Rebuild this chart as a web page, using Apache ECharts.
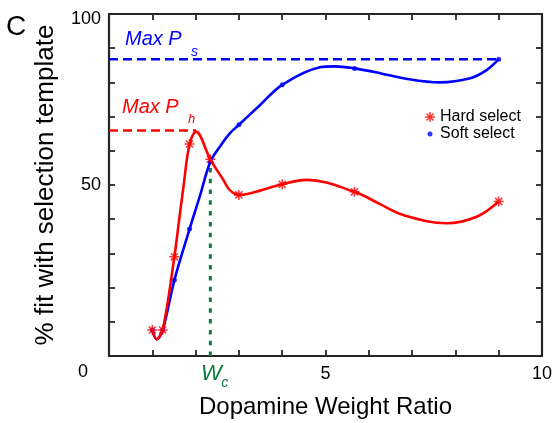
<!DOCTYPE html>
<html><head><meta charset="utf-8">
<script src="https://cdn.jsdelivr.net/npm/echarts@6/dist/echarts.min.js"></script>
<style>html,body{margin:0;padding:0;background:#fff}#c{width:553px;height:423px}</style>
</head><body><div id="c"></div>
<script>
// ---- data ----
const ratios = [1.0, 1.24, 1.51, 1.86, 2.34, 3.0, 4.0, 5.67, 9.0];
const hardSelect = [7.6, 7.6, 29.0, 62.0, 57.5, 47.1, 50.2, 48.0, 45.2];
const softSelect = [7.6, 7.6, 22.2, 37.1, 56.8, 67.6, 79.3, 84.1, 86.8];
// traced fitted curves
const hardCurveX = [1.0, 1.10, 1.24, 1.51, 1.62, 1.72, 1.86, 2.01, 2.34, 2.64, 2.79, 3.0, 3.33, 4.0, 4.57, 5.67, 6.26, 6.80, 7.80, 8.49, 9.0];
const hardCurveY = [7.6, 4.9, 7.6, 29.0, 39.8, 49.5, 62.0, 65.6, 57.5, 51.5, 48.5, 47.1, 47.8, 50.2, 51.5, 48.0, 44.4, 41.2, 38.8, 40.7, 45.2];
const softCurveX = [1.0, 1.10, 1.24, 1.51, 1.86, 2.10, 2.34, 2.56, 2.79, 3.0, 3.49, 4.0, 4.87, 5.22, 5.67, 6.26, 6.80, 7.64, 8.34, 8.72, 9.0];
const softCurveY = [7.6, 4.9, 7.6, 22.2, 37.1, 46.8, 56.8, 61.2, 65.1, 67.6, 73.4, 79.3, 84.4, 84.7, 84.1, 82.7, 81.2, 80.0, 81.2, 83.6, 86.8];
const maxPs = 86.8;
const maxPh = 65.9;
const peakHardX = 2.01;
const endSoftX = 9.0;
const wc = 2.34;
const wcFit = 57.0;
const xTicks = [0,1,2,3,4,5,6,7,8,9,10];
const yTicks = [0,10,20,30,40,50,60,70,80,90,100];
const xLabels = [5, 10];
const yLabels = [50, 100];
const seriesNames = ['Hard select', 'Soft select'];

const FONT = '"Liberation Sans", Arial, Helvetica, sans-serif';
const RED = '#ff0000', BLUE = '#0000ff', GREEN = '#0b7a3a', AX = '#262626';
const star = 'path://M-5,-0.75L5,-0.75L5,0.75L-5,0.75Z M-0.75,-5L0.75,-5L0.75,5L-0.75,5Z M-4.066,-3.005L-3.005,-4.066L4.066,3.005L3.005,4.066Z M-3.005,4.066L-4.066,3.005L3.005,-4.066L4.066,-3.005Z';
const dotIcon = 'path://M0,0 M10,10 M5,2.5 A2.5,2.5 0 1 1 5,7.5 A2.5,2.5 0 1 1 5,2.5 Z';

const zip = (a, b) => a.map((v, i) => [v, b[i]]);

const chart = echarts.init(document.getElementById('c'), null, {renderer: 'canvas'});

const axisCommon = (extra) => Object.assign({
  type: 'value',
  axisLine: {show: true, onZero: false, lineStyle: {color: AX, width: 2.2}},
  axisTick: {show: true, inside: true, length: 6, lineStyle: {color: AX, width: 1.8}},
  splitLine: {show: false},
}, extra);

chart.setOption({
  animation: false,
  backgroundColor: '#fff',
  grid: {left: 109, right: 11, top: 14, bottom: 67, containLabel: false, outerBoundsMode: 'none'},
  xAxis: [
    axisCommon({
      min: xTicks[0], max: xTicks[xTicks.length - 1], interval: 1, position: 'bottom',
      axisLabel: {show: true, margin: 9, fontSize: 18, color: '#000', fontFamily: FONT,
        formatter: v => xLabels.includes(v) ? String(v) : ''},
      name: 'Dopamine Weight Ratio', nameLocation: 'middle', nameGap: 39,
      nameTextStyle: {fontSize: 24, color: '#000', fontFamily: FONT}
    }),
    axisCommon({
      min: xTicks[0], max: xTicks[xTicks.length - 1], interval: 1, position: 'top',
      axisLabel: {show: false}
    })
  ],
  yAxis: [
    axisCommon({
      min: yTicks[0], max: yTicks[yTicks.length - 1], interval: 10, position: 'left',
      axisLabel: {show: true, margin: 8, fontSize: 18, color: '#000', fontFamily: FONT,
        formatter: v => v === yLabels[1] ? '{t|' + v + '}' : (yLabels.includes(v) ? String(v) : ''),
        rich: {t: {fontSize: 18, fontFamily: FONT, color: '#000', padding: [10, 0, 0, 0]}}},
      name: '% fit with selection template', nameLocation: 'middle', nameGap: 50,
      nameTextStyle: {fontSize: 26, color: '#000', fontFamily: FONT}
    }),
    axisCommon({
      min: yTicks[0], max: yTicks[yTicks.length - 1], interval: 10, position: 'right',
      axisLabel: {show: false}
    })
  ],
  legend: {
    orient: 'vertical', left: 420, top: 104, itemWidth: 10, itemHeight: 10, itemGap: 1,
    selectedMode: false,
    textStyle: {fontSize: 16, color: '#000', fontFamily: FONT},
    data: [{name: seriesNames[0], icon: star}, {name: seriesNames[1], icon: dotIcon}]
  },
  series: [
    {type: 'line', name: 'maxPs', data: [[xTicks[0], maxPs], [endSoftX, maxPs]], showSymbol: false, silent: true,
      lineStyle: {color: BLUE, width: 2.5, type: [9, 5]}},
    {type: 'line', name: 'maxPh', data: [[xTicks[0], maxPh], [peakHardX, maxPh]], showSymbol: false, silent: true,
      lineStyle: {color: RED, width: 2.5, type: [9, 5]}},
    {type: 'line', name: 'wc', data: [[wc, yTicks[0]], [wc, wcFit]], showSymbol: false, silent: true,
      lineStyle: {color: GREEN, width: 3, type: [4.5, 6.3]}},
    {type: 'line', name: 'softCurve', data: zip(softCurveX, softCurveY), smooth: 0.35, showSymbol: false, silent: true,
      lineStyle: {color: BLUE, width: 2.6}},
    {type: 'line', name: 'hardCurve', data: zip(hardCurveX, hardCurveY), smooth: 0.35, showSymbol: false, silent: true,
      lineStyle: {color: RED, width: 2.6}},
    {type: 'scatter', name: seriesNames[1], data: zip(ratios, softSelect), symbol: 'circle', symbolSize: 5,
      itemStyle: {color: BLUE}, silent: true},
    {type: 'scatter', name: seriesNames[0], data: zip(ratios, hardSelect), symbol: star, symbolSize: 10,
      itemStyle: {color: RED}, silent: true}
  ]
});

const wcPx = chart.convertToPixel({xAxisIndex: 0}, wc);
const italic = (size) => 'italic ' + size + 'px ' + FONT;
chart.setOption({
  graphic: [
    {type: 'text', x: 6, y: 27, style: {text: 'C', font: '28px ' + FONT, fill: '#000', textAlign: 'left', textVerticalAlign: 'middle'}},
    {type: 'text', x: 83, y: 372, style: {text: '0', font: '18px ' + FONT, fill: '#000', textAlign: 'center', textVerticalAlign: 'middle'}},
    {type: 'text', x: 125, y: 39.5, style: {text: 'Max P', font: italic(20), fill: BLUE, textAlign: 'left', textVerticalAlign: 'middle'}},
    {type: 'text', x: 191, y: 52, style: {text: 's', font: italic(14), fill: BLUE, textAlign: 'left', textVerticalAlign: 'middle'}},
    {type: 'text', x: 122, y: 107.5, style: {text: 'Max P', font: italic(20), fill: RED, textAlign: 'left', textVerticalAlign: 'middle'}},
    {type: 'text', x: 188, y: 119.5, style: {text: 'h', font: italic(13), fill: RED, textAlign: 'left', textVerticalAlign: 'middle'}},
    {type: 'text', x: wcPx + 1, y: 373.5, style: {text: 'W', font: italic(22), fill: GREEN, textAlign: 'center', textVerticalAlign: 'middle'}},
    {type: 'text', x: wcPx + 11, y: 383, style: {text: 'c', font: italic(14), fill: GREEN, textAlign: 'left', textVerticalAlign: 'middle'}}
  ]
});
</script>
</body></html>
